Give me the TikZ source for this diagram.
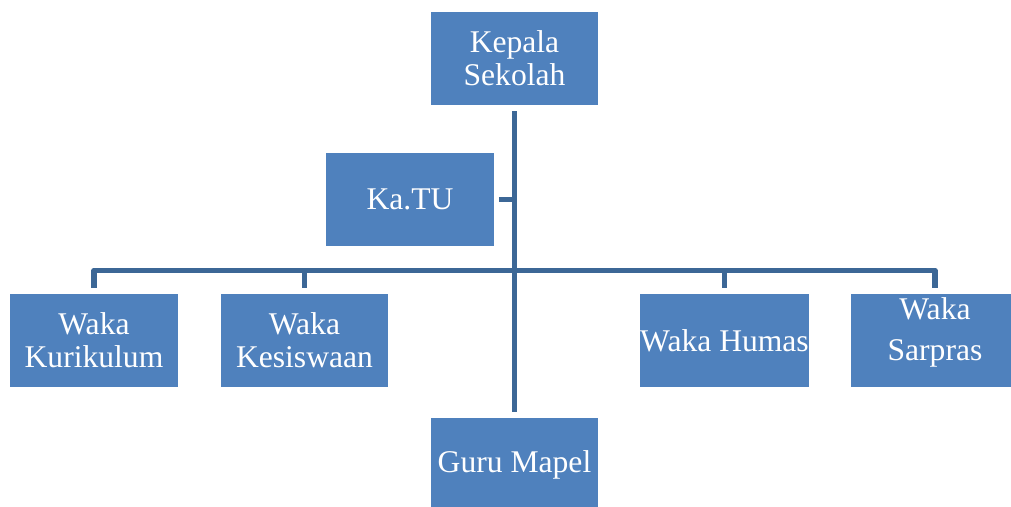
\documentclass[tikz,border=0pt]{standalone}
\usepackage{fontspec}
\setmainfont{Liberation Serif}
\definecolor{boxblue}{HTML}{4F81BD}
\definecolor{lineblue}{HTML}{3C6796}
\begin{document}
\begin{tikzpicture}[x=0.75pt,y=-0.75pt,
  orgbox/.style={rectangle, fill=boxblue, inner sep=0pt, minimum width=125.5pt, minimum height=69.75pt, align=center, text=white, font=\fontsize{23.7pt}{24.8pt}\selectfont},
  orgtext/.style={inner sep=0pt, align=center, text=white, font=\fontsize{23.7pt}{24.8pt}\selectfont},
  conn/.style={draw=lineblue, line width=4.1pt, line join=round}]
\useasboundingbox (0,0) rectangle (1011,507);
\clip (0,0) rectangle (1011,507);
\node[orgbox] (kepala) at (514.5,58) {Kepala\\Sekolah};
\node[orgbox] (katu) at (410,199.5) {Ka.TU};
\node[orgbox] (kurikulum) at (94,340.5) {Waka\\Kurikulum};
\node[orgbox] (kesiswaan) at (304.5,340.5) {Waka\\Kesiswaan};
\node[orgbox] (humas) at (724.5,340.5) {Waka Humas};
\node[orgbox] (sarpras) at (935,340.5) {};
\node[orgtext] (sarprastext) at (935,332.5) {Waka\\[6pt]Sarpras};
\node[orgbox] (guru) at (514.5,464.5) {Guru Mapel};
\coordinate (bus) at (514.5,270.5);
\draw[conn] ([shift={(0,6.5)}]kepala.south) -- ([shift={(0,-6)}]guru.north);
\draw[conn] ([shift={(5,0)}]katu.east) -- (katu.east -| bus);
\draw[conn] ([shift={(0,-6)}]kurikulum.north) |- (bus) -| ([shift={(0,-6)}]sarpras.north);
\draw[conn] ([shift={(0,-6)}]kesiswaan.north) -- (kesiswaan.north |- bus);
\draw[conn] ([shift={(0,-6)}]humas.north) -- (humas.north |- bus);
\end{tikzpicture}
\end{document}
